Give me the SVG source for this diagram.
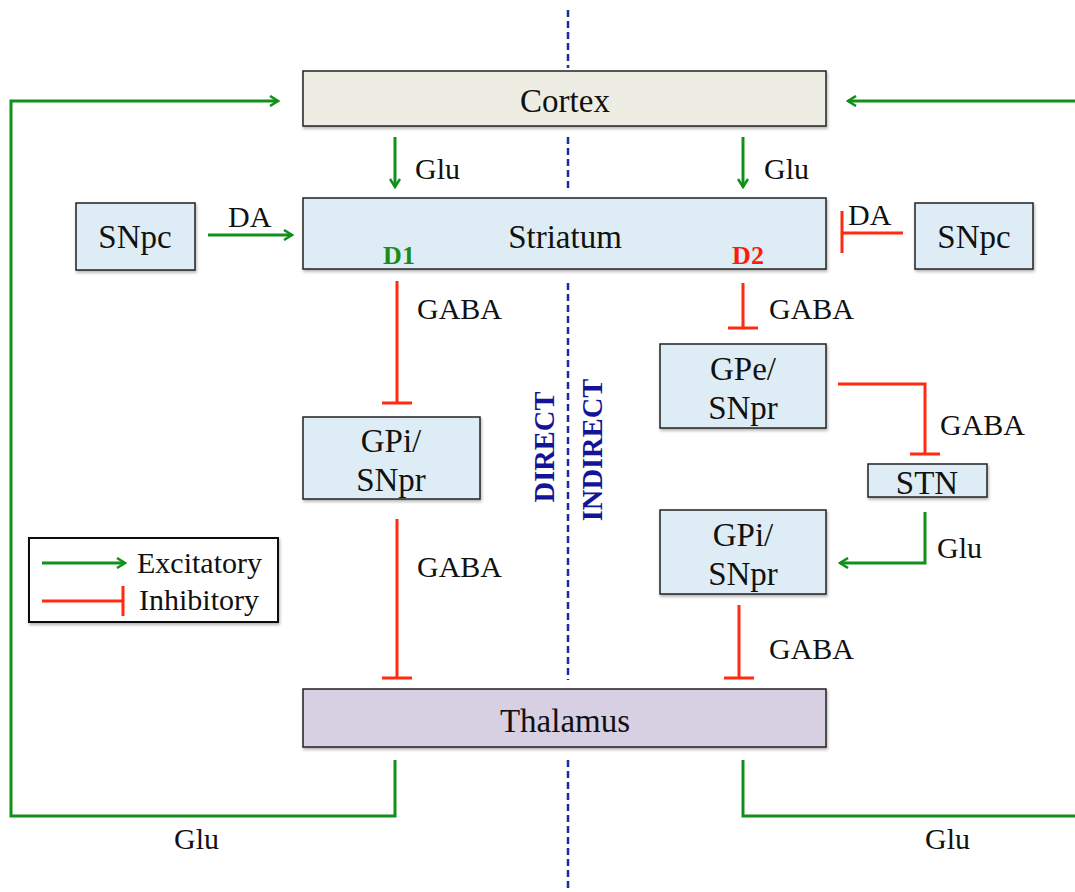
<svg xmlns="http://www.w3.org/2000/svg" width="1075" height="892" viewBox="0 0 1075 892">
<style>
text{font-family:"Liberation Serif","DejaVu Serif",serif;fill:#111}
.box{stroke:#222;stroke-width:1.5;filter:url(#sh)}
.blue{fill:#deedf5}
.lbl{font-size:30px}
.nm{font-size:33px;text-anchor:middle}
.exc{stroke:#10901a;stroke-width:3;fill:none}
.inh{stroke:#ff2a10;stroke-width:3;fill:none}
.dash{stroke:#1a2aa0;stroke-width:2.5;stroke-dasharray:7 4;fill:none}
.path{font-size:28.5px;font-weight:bold;fill:#141499;text-anchor:middle}
</style>
<defs>
<filter id="sh" x="-5%" y="-10%" width="110%" height="130%">
<feDropShadow dx="1" dy="2" stdDeviation="1.5" flood-color="#000" flood-opacity="0.3"/>
</filter>
<marker id="ar" viewBox="0 0 12 12" refX="10" refY="6" markerWidth="12" markerHeight="12" markerUnits="userSpaceOnUse" orient="auto">
<path d="M2,1 L10,6 L2,11" fill="none" stroke="#10901a" stroke-width="2.5"/>
</marker>
</defs>

<g id="divider">
<line class="dash" x1="568" y1="10" x2="568" y2="68"/>
<line class="dash" x1="568" y1="137" x2="568" y2="188"/>
<line class="dash" x1="568" y1="283" x2="568" y2="680"/>
<line class="dash" x1="568" y1="760" x2="568" y2="892"/>
</g>

<g id="connectors">
<polyline class="exc" points="395,760 395,816 11,816 11,101 278,101" marker-end="url(#ar)"/>
<polyline class="exc" points="743,760 743,816 1075,816"/>
<line class="exc" x1="1075" y1="101" x2="848" y2="101" marker-end="url(#ar)"/>
<line class="exc" x1="395" y1="137" x2="395" y2="187" marker-end="url(#ar)"/>
<line class="exc" x1="743" y1="137" x2="743" y2="187" marker-end="url(#ar)"/>
<line class="exc" x1="208" y1="235" x2="292" y2="235" marker-end="url(#ar)"/>
<line class="inh" x1="903" y1="233" x2="842" y2="233"/>
<line class="inh" x1="842" y1="211" x2="842" y2="253"/>
<line class="inh" x1="397" y1="281" x2="397" y2="403"/>
<line class="inh" x1="382" y1="403" x2="412" y2="403"/>
<line class="inh" x1="743" y1="283" x2="743" y2="328"/>
<line class="inh" x1="728" y1="328" x2="758" y2="328"/>
<polyline class="inh" points="838,384 925,384 925,454"/>
<line class="inh" x1="910" y1="454" x2="940" y2="454"/>
<polyline class="exc" points="925,512 925,563 840,563" marker-end="url(#ar)"/>
<line class="inh" x1="397" y1="519" x2="397" y2="678"/>
<line class="inh" x1="382" y1="678" x2="412" y2="678"/>
<line class="inh" x1="739" y1="605" x2="739" y2="678"/>
<line class="inh" x1="724" y1="678" x2="754" y2="678"/>
</g>

<g id="labels">
<text class="lbl" x="415" y="179">Glu</text>
<text class="lbl" x="764" y="179">Glu</text>
<text class="lbl" x="228" y="227">DA</text>
<text class="lbl" x="848" y="225">DA</text>
<text class="lbl" x="417" y="319">GABA</text>
<text class="lbl" x="769" y="319">GABA</text>
<text class="lbl" x="940" y="435">GABA</text>
<text class="lbl" x="937" y="558">Glu</text>
<text class="lbl" x="417" y="577">GABA</text>
<text class="lbl" x="769" y="659">GABA</text>
<text class="lbl" x="174" y="849">Glu</text>
<text class="lbl" x="925" y="849">Glu</text>
</g>

<g id="cortex">
<rect class="box" x="303" y="71" width="523" height="55" fill="#eeede4"/>
<text class="nm" x="565" y="112">Cortex</text>
</g>
<g id="striatum">
<rect class="box blue" x="303" y="198" width="523" height="71"/>
<text class="nm" x="565" y="248">Striatum</text>
<text x="399" y="264" style="font-size:26px;font-weight:bold;fill:#1a8c1a;text-anchor:middle">D1</text>
<text x="748" y="264" style="font-size:26px;font-weight:bold;fill:#ff1a0a;text-anchor:middle">D2</text>
</g>
<g id="snpc-left">
<rect class="box blue" x="76" y="203" width="119" height="67"/>
<text class="nm" x="135" y="248">SNpc</text>
</g>
<g id="snpc-right">
<rect class="box blue" x="915" y="203" width="118" height="66"/>
<text class="nm" x="974" y="248">SNpc</text>
</g>
<g id="gpe">
<rect class="box blue" x="660" y="344" width="166" height="84"/>
<text class="nm" x="743" y="380">GPe/</text>
<text class="nm" x="743" y="419">SNpr</text>
</g>
<g id="gpi-left">
<rect class="box blue" x="303" y="417" width="177" height="82"/>
<text class="nm" x="391" y="452">GPi/</text>
<text class="nm" x="391" y="491">SNpr</text>
</g>
<g id="stn">
<rect class="box blue" x="868" y="464" width="119" height="33"/>
<text class="nm" x="927" y="494">STN</text>
</g>
<g id="gpi-right">
<rect class="box blue" x="660" y="510" width="166" height="84"/>
<text class="nm" x="743" y="546">GPi/</text>
<text class="nm" x="743" y="585">SNpr</text>
</g>
<g id="thalamus">
<rect class="box" x="303" y="689" width="523" height="58" fill="#d7cfe2"/>
<text class="nm" x="565" y="732">Thalamus</text>
</g>

<g id="pathway-labels">
<text class="path" transform="translate(554,447) rotate(-90)">DIRECT</text>
<text class="path" transform="translate(602,450) rotate(-90)">INDIRECT</text>
</g>

<g id="legend">
<rect x="29" y="538" width="249" height="84" fill="#fff" stroke="#111" stroke-width="2" style="filter:url(#sh)"/>
<line class="exc" x1="42" y1="563" x2="125" y2="563" marker-end="url(#ar)"/>
<text class="lbl" x="137" y="573">Excitatory</text>
<line class="inh" x1="42" y1="601" x2="122" y2="601"/>
<line class="inh" x1="123" y1="586" x2="123" y2="616"/>
<text class="lbl" x="139" y="610">Inhibitory</text>
</g>
</svg>
